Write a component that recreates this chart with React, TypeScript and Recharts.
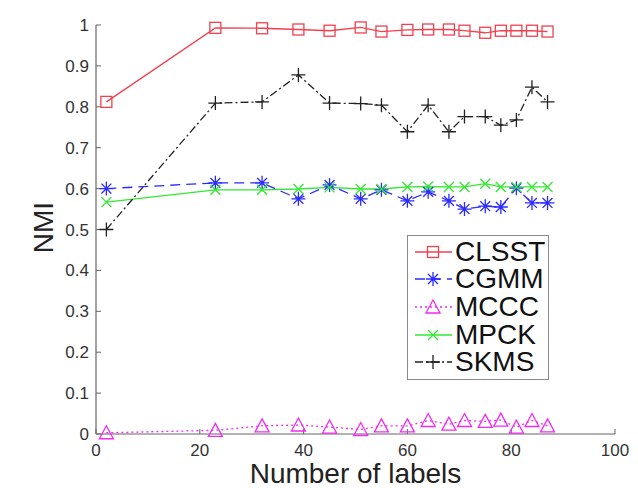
import React from "react";
import { LineChart, Line, XAxis, YAxis, Legend, Label } from "recharts";

const labelCounts = [2, 23, 32, 39, 45, 51, 55, 60, 64, 68, 71, 75, 78, 81, 84, 87];
const clsst = [0.812, 0.993, 0.992, 0.989, 0.986, 0.994, 0.984, 0.988, 0.989, 0.989, 0.986, 0.981, 0.986, 0.986, 0.986, 0.984];
const cgmm = [0.6, 0.614, 0.614, 0.575, 0.609, 0.575, 0.597, 0.57, 0.592, 0.57, 0.55, 0.557, 0.555, 0.601, 0.565, 0.565];
const mccc = [0.003, 0.009, 0.02, 0.022, 0.017, 0.011, 0.02, 0.02, 0.033, 0.024, 0.033, 0.031, 0.034, 0.017, 0.033, 0.02];
const mpck = [0.567, 0.597, 0.597, 0.599, 0.603, 0.599, 0.599, 0.604, 0.605, 0.604, 0.604, 0.612, 0.604, 0.604, 0.604, 0.604];
const skms = [0.5, 0.809, 0.812, 0.878, 0.809, 0.808, 0.804, 0.739, 0.804, 0.739, 0.776, 0.776, 0.755, 0.768, 0.848, 0.812];

const xTicks = [0, 20, 40, 60, 80, 100];
const yTicks = [0, 0.1, 0.2, 0.3, 0.4, 0.5, 0.6, 0.7, 0.8, 0.9, 1];

const FONT = "'Liberation Sans', Arial, Helvetica, sans-serif";

type MarkerKind = "square" | "star" | "triangle" | "cross" | "plus";

interface SeriesDef {
  key: string;
  name: string;
  color: string;
  dash?: string;
  marker: MarkerKind;
}

const series: SeriesDef[] = [
  { key: "clsst", name: "CLSST", color: "#f2404e", marker: "square" },
  { key: "cgmm", name: "CGMM", color: "#2b2bff", dash: "10 6", marker: "star" },
  { key: "mccc", name: "MCCC", color: "#f22af2", dash: "2 3", marker: "triangle" },
  { key: "mpck", name: "MPCK", color: "#30e830", marker: "cross" },
  { key: "skms", name: "SKMS", color: "#222222", dash: "8 3 2 3", marker: "plus" },
];

const data = labelCounts.map((x, i) => ({
  x,
  clsst: clsst[i],
  cgmm: cgmm[i],
  mccc: mccc[i],
  mpck: mpck[i],
  skms: skms[i],
}));

function Marker({ kind, cx, cy, color }: { kind: MarkerKind; cx: number; cy: number; color: string }) {
  const common = { stroke: color, strokeWidth: 1.3, fill: "none" };
  switch (kind) {
    case "square":
      return <rect x={cx - 5.5} y={cy - 5.5} width={11} height={11} {...common} />;
    case "star": {
      const r = 7;
      const d = r * 0.707;
      return (
        <path
          d={`M${cx - r},${cy}H${cx + r}M${cx},${cy - r}V${cy + r}M${cx - d},${cy - d}L${cx + d},${cy + d}M${cx - d},${cy + d}L${cx + d},${cy - d}`}
          {...common}
        />
      );
    }
    case "triangle":
      return <path d={`M${cx},${cy - 7}L${cx + 7},${cy + 6}L${cx - 7},${cy + 6}Z`} {...common} />;
    case "cross":
      return <path d={`M${cx - 5},${cy - 5}L${cx + 5},${cy + 5}M${cx - 5},${cy + 5}L${cx + 5},${cy - 5}`} {...common} />;
    case "plus":
      return <path d={`M${cx - 7},${cy}H${cx + 7}M${cx},${cy - 7}V${cy + 7}`} {...common} />;
  }
}

function LegendBox() {
  return (
    <div
      style={{
        width: 140,
        height: 141,
        border: "1.5px solid #8a8a8a",
        background: "#fff",
        paddingTop: 2,
        boxSizing: "content-box",
      }}
    >
      {series.map((s) => (
        <div key={s.key} style={{ display: "flex", alignItems: "center", height: 27.6 }}>
          <svg width={47} height={28} style={{ flex: "none" }}>
            <line x1={7} x2={44} y1={14} y2={14} stroke={s.color} strokeWidth={1.3} strokeDasharray={s.dash} />
            <Marker kind={s.marker} cx={25} cy={14} color={s.color} />
          </svg>
          <span style={{ fontFamily: FONT, fontSize: 28, color: "#111", lineHeight: "28px" }}>{s.name}</span>
        </div>
      ))}
    </div>
  );
}

export default function App() {
  return (
    <div style={{ position: "absolute", left: 0, top: 0, width: 638, height: 488, background: "#fff" }}>
      <LineChart width={638} height={488} data={data} margin={{ top: 25, right: 23, bottom: 0, left: 0 }}>
        <XAxis
          dataKey="x"
          type="number"
          domain={[0, 100]}
          ticks={xTicks}
          height={54}
          tickSize={-5}
          tickMargin={15}
          axisLine={{ stroke: "#666", strokeWidth: 1.2 }}
          tickLine={{ stroke: "#666" }}
          tick={{ fill: "#333", fontSize: 17, fontFamily: FONT }}
        >
          <Label
            content={({ viewBox }: any) => (
              <text
                x={viewBox.x + viewBox.width / 2}
                y={viewBox.y + 49}
                textAnchor="middle"
                fontFamily={FONT}
                fontSize={28}
                fill="#222"
              >
                Number of labels
              </text>
            )}
          />
        </XAxis>
        <YAxis
          type="number"
          domain={[0, 1]}
          ticks={yTicks}
          width={96}
          tickSize={-5}
          tickMargin={12}
          tickFormatter={(v: number) => (v === 0 || v === 1 ? String(v) : v.toFixed(1))}
          axisLine={{ stroke: "#666", strokeWidth: 1.2 }}
          tickLine={{ stroke: "#666" }}
          tick={{ fill: "#333", fontSize: 17, fontFamily: FONT }}
        >
          <Label
            content={({ viewBox }: any) => {
              const cx = viewBox.x + 43;
              const cy = viewBox.y + viewBox.height / 2 - 2;
              return (
                <text
                  x={cx}
                  y={cy}
                  transform={`rotate(-90 ${cx} ${cy})`}
                  textAnchor="middle"
                  dominantBaseline="central"
                  fontFamily={FONT}
                  fontSize={28}
                  fill="#222"
                >
                  NMI
                </text>
              );
            }}
          />
        </YAxis>
        <Legend
          layout="vertical"
          align="center"
          verticalAlign="middle"
          content={() => <LegendBox />}
          wrapperStyle={{ left: 407, top: 235, width: 143, height: 146 }}
        />
        {series.map((s) => (
          <Line
            key={s.key}
            dataKey={s.key}
            name={s.name}
            stroke={s.color}
            strokeWidth={1.3}
            strokeDasharray={s.dash}
            isAnimationActive={false}
            dot={(p: any) => <Marker key={`${s.key}-${p.index}`} kind={s.marker} cx={p.cx} cy={p.cy} color={s.color} />}
            activeDot={false}
          />
        ))}
      </LineChart>
    </div>
  );
}
